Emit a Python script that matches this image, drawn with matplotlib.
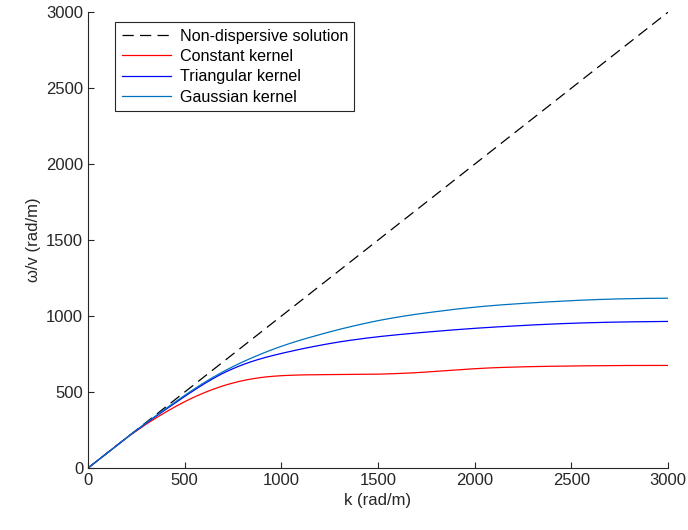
import matplotlib
matplotlib.use("Agg")
import matplotlib.pyplot as plt
import numpy as np

plt.rcParams['font.family'] = ['Liberation Sans', 'DejaVu Sans']

# values (k in rad/m)
k = [0, 200, 300, 400, 500, 600, 700, 800, 900, 1000, 1200, 1400, 1600,
     1800, 2000, 2200, 2400, 2600, 2800, 3000]
constant = [0, 200, 290, 370, 440, 500, 545, 580, 600, 610, 615, 615, 620,
            635, 655, 665, 670, 673, 675, 675]
triangular = [0, 200, 296, 385, 470, 560, 630, 685, 725, 755, 810, 850, 878,
              900, 920, 935, 948, 957, 962, 965]
gaussian = [0, 200, 298, 390, 480, 565, 640, 700, 755, 805, 880, 945, 995,
            1030, 1060, 1080, 1095, 1108, 1115, 1118]

# smooth the hand-read points for drawing
kk = np.linspace(0, 3000, 601)


def smooth(ys):
    y = np.interp(kk, k, ys)
    w = 25
    pad = np.concatenate([y[:1].repeat(w), y, y[-1:].repeat(w)])
    ker = np.ones(2 * w + 1) / (2 * w + 1)
    out = np.convolve(pad, ker, mode='valid')
    # keep the linear start exact and blend into the smoothed part
    lin = np.interp(kk, k, ys)
    t = np.clip((kk - 200) / 200, 0, 1)
    return lin * (1 - t) + out * t


fig = plt.figure(figsize=(6.88, 5.30), dpi=100)
ax = fig.add_axes([0.128, 0.117, 0.843, 0.860])

ax.plot([0, 3000], [0, 3000], '--', color='black', lw=0.9, dashes=(9, 5),
        label='Non-dispersive solution')
ax.plot(kk, smooth(constant), color='#ff0000', lw=0.9, label='Constant kernel')
ax.plot(kk, smooth(triangular), color='#0000ff', lw=0.9, label='Triangular kernel')
ax.plot(kk, smooth(gaussian), color='#0072bd', lw=0.9, label='Gaussian kernel')

ax.set_xlim(0, 3000)
ax.set_ylim(0, 3000)
ax.set_xticks(np.arange(0, 3001, 500))
ax.set_yticks(np.arange(0, 3001, 500))
ax.set_xlabel('k (rad/m)', fontsize=12, color='#262626')
ax.set_ylabel('ω/v (rad/m)', fontsize=12, color='#262626')

for s in ['top', 'right']:
    ax.spines[s].set_visible(False)
for s in ['left', 'bottom']:
    ax.spines[s].set_color('#262626')
    ax.spines[s].set_linewidth(0.8)
ax.tick_params(direction='in', length=4, width=0.8, colors='#262626',
               labelsize=12)

leg = ax.legend(loc='upper left', bbox_to_anchor=(0.0466, 0.978),
                borderaxespad=0, fontsize=11.6,
                handlelength=3.05, handletextpad=0.55, borderpad=0.4,
                labelspacing=0.33, fancybox=False, framealpha=1)
leg.get_frame().set_edgecolor('#262626')
leg.get_frame().set_linewidth(0.8)

fig.savefig('out.png', dpi=100)
